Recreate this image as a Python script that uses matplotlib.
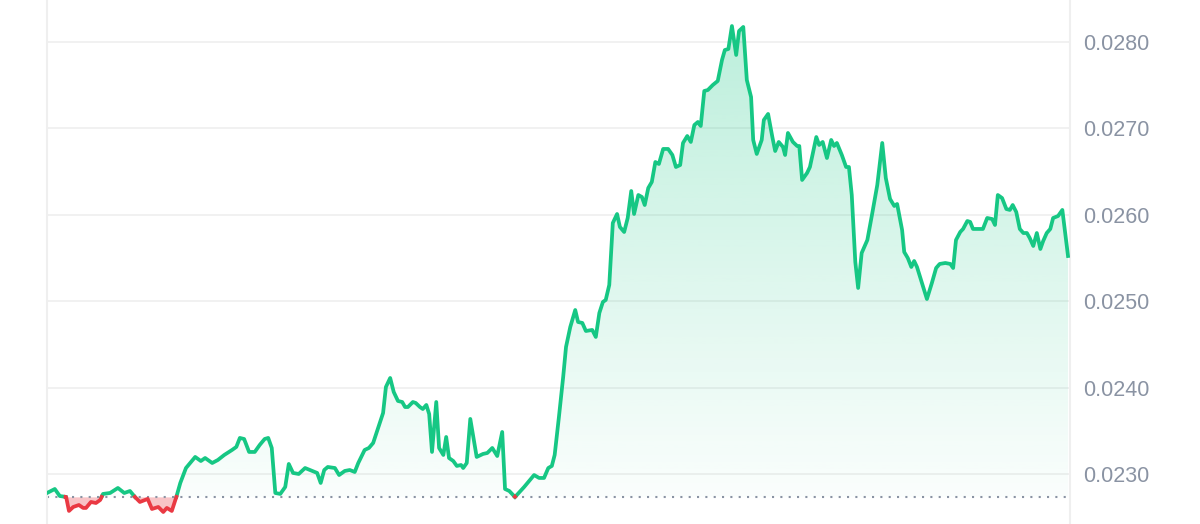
import numpy as np
import matplotlib.pyplot as plt
from matplotlib.path import Path
from matplotlib.patches import PathPatch
from matplotlib.ticker import FormatStrFormatter

plt.rcParams['font.family'] = ['Liberation Sans', 'DejaVu Sans']

# precio (USD) durante 24 h, minutos desde la apertura
minutes = [0, 11, 18, 27, 31, 37, 45, 51, 55, 62, 69, 75, 79, 89, 100, 109, 117, 124, 131, 138,
           142, 148, 157, 164, 169, 176, 182, 188, 196, 209, 217, 223, 233, 241, 250, 261, 267, 272, 278, 285,
           293, 300, 307, 312, 317, 322, 329, 336, 341, 347, 355, 364, 374, 381, 386, 391, 396, 406, 412, 420,
           427, 434, 439, 448, 454, 460, 467, 474, 478, 484, 489, 495, 501, 505, 509, 516, 520, 526, 530, 535,
           539, 543, 549, 553, 559, 563, 567, 573, 578, 584, 587, 592, 597, 602, 606, 615, 621, 628, 635, 642,
           646, 652, 660, 664, 673, 680, 687, 694, 701, 707, 712, 716, 722, 728, 732, 738, 745, 749, 755, 760,
           769, 774, 779, 784, 788, 793, 798, 804, 808, 814, 819, 824, 828, 834, 839, 843, 848, 853, 858, 863,
           869, 876, 882, 887, 893, 897, 903, 908, 913, 918, 922, 927, 932, 939, 946, 952, 956, 961, 966, 972,
           976, 982, 987, 993, 996, 1001, 1008, 1011, 1017, 1023, 1027, 1032, 1038, 1041, 1045, 1052, 1058, 1061, 1065, 1072,
           1076, 1085, 1089, 1094, 1100, 1106, 1110, 1114, 1121, 1127, 1131, 1135, 1140, 1144, 1149, 1157, 1164, 1171, 1178, 1183,
           1189, 1195, 1199, 1206, 1209, 1214, 1219, 1223, 1227, 1234, 1241, 1248, 1254, 1259, 1267, 1274, 1278, 1282, 1288, 1292,
           1298, 1302, 1306, 1313, 1320, 1326, 1333, 1337, 1341, 1347, 1353, 1358, 1362, 1367, 1372, 1377, 1382, 1386, 1391, 1396,
           1401, 1405, 1410, 1415, 1419, 1426, 1432, 1440]

price = [0.022780, 0.022826, 0.022745, 0.022734, 0.022572, 0.022618, 0.022641, 0.022607, 0.022607, 0.022676,
         0.022664, 0.022699, 0.022769, 0.022780, 0.022838, 0.022780, 0.022803, 0.022734, 0.022676, 0.022699,
         0.022711, 0.022595, 0.022618, 0.022560, 0.022607, 0.022572, 0.022722, 0.022896, 0.023069, 0.023197,
         0.023150, 0.023185, 0.023127, 0.023162, 0.023220, 0.023278, 0.023313, 0.023417, 0.023405, 0.023255,
         0.023255, 0.023336, 0.023405, 0.023417, 0.023301, 0.022780, 0.022769, 0.022850, 0.023116, 0.023012,
         0.023000, 0.023069, 0.023035, 0.023012, 0.022896, 0.023046, 0.023081, 0.023069, 0.022988, 0.023035,
         0.023046, 0.023023, 0.023127, 0.023278, 0.023301, 0.023359, 0.023532, 0.023706, 0.024007, 0.024111,
         0.023949, 0.023845, 0.023833, 0.023775, 0.023775, 0.023833, 0.023822, 0.023775, 0.023752, 0.023799,
         0.023694, 0.023255, 0.023833, 0.023301, 0.023220, 0.023428, 0.023185, 0.023150, 0.023093, 0.023104,
         0.023069, 0.023127, 0.023637, 0.023394, 0.023197, 0.023232, 0.023243, 0.023301, 0.023208, 0.023486,
         0.022826, 0.022803, 0.022734, 0.022769, 0.022850, 0.022919, 0.022988, 0.022954, 0.022954, 0.023069,
         0.023093, 0.023220, 0.023660, 0.024123, 0.024470, 0.024701, 0.024898, 0.024759, 0.024748, 0.024655,
         0.024667, 0.024586, 0.024863, 0.024991, 0.025014, 0.025188, 0.025905, 0.026009, 0.025859, 0.025801,
         0.025963, 0.026275, 0.026009, 0.026229, 0.026206, 0.026113, 0.026310, 0.026380, 0.026611, 0.026588,
         0.026762, 0.026762, 0.026692, 0.026553, 0.026576, 0.026831, 0.026912, 0.026843, 0.027039, 0.027074,
         0.027028, 0.027433, 0.027444, 0.027502, 0.027549, 0.027792, 0.027907, 0.027919, 0.028185, 0.027850,
         0.028127, 0.028174, 0.027560, 0.027363, 0.026866, 0.026704, 0.026866, 0.027097, 0.027167, 0.026900,
         0.026738, 0.026843, 0.026785, 0.026692, 0.026947, 0.026843, 0.026796, 0.026796, 0.026403, 0.026484,
         0.026553, 0.026900, 0.026808, 0.026843, 0.026657, 0.026866, 0.026796, 0.026831, 0.026692, 0.026553,
         0.026553, 0.026229, 0.025454, 0.025153, 0.025558, 0.025708, 0.026021, 0.026345, 0.026831, 0.026426,
         0.026183, 0.026102, 0.026125, 0.025824, 0.025569, 0.025500, 0.025396, 0.025465, 0.025396, 0.025211,
         0.025025, 0.025211, 0.025384, 0.025431, 0.025442, 0.025431, 0.025384, 0.025708, 0.025801, 0.025836,
         0.025928, 0.025917, 0.025836, 0.025836, 0.025836, 0.025963, 0.025951, 0.025882, 0.026229, 0.026194,
         0.026067, 0.026056, 0.026113, 0.026032, 0.025836, 0.025789, 0.025789, 0.025731, 0.025639, 0.025789,
         0.025604, 0.025697, 0.025789, 0.025836, 0.025963, 0.025986, 0.026056, 0.025523]

open_price = 0.022735
yticks = [0.0230, 0.0240, 0.0250, 0.0260, 0.0270, 0.0280]

GREEN = '#16c784'
RED = '#ea3943'
GRAY = '#8a93a3'

t = np.array(minutes, dtype=float)
p = np.array(price)

# añadir los cruces con el precio de apertura para cortar el color de la línea
tt, pp = [t[0]], [p[0]]
for i in range(len(t) - 1):
    d0, d1 = p[i] - open_price, p[i + 1] - open_price
    if d0 * d1 < 0:
        f = d0 / (d0 - d1)
        tt.append(t[i] + f * (t[i + 1] - t[i]))
        pp.append(open_price)
    tt.append(t[i + 1])
    pp.append(p[i + 1])
tt, pp = np.array(tt), np.array(pp)
up = np.where(pp >= open_price, pp, np.nan)
dn = np.where(pp <= open_price, pp, np.nan)

fig = plt.figure(figsize=(12, 5.24), dpi=100)
ax = fig.add_axes([47 / 1200, 0, 1023 / 1200, 1])

ymin, ymax = 0.022421, 0.028486
xmax = 1442.8
ax.set_xlim(0, xmax)
ax.set_ylim(ymin, ymax)

# relleno verde con degradado
verts = [(tt[0], open_price)] + list(zip(tt, np.maximum(pp, open_price))) + [(tt[-1], open_price)]
clip = PathPatch(Path(verts), transform=ax.transData, facecolor='none', edgecolor='none')
ax.add_patch(clip)
grad = np.zeros((256, 1, 4))
grad[..., :3] = np.array([22, 199, 132]) / 255
grad[:, 0, 3] = np.linspace(0.02, 0.30, 256)
im = ax.imshow(grad, extent=[0, xmax, open_price, ymax], origin='lower', aspect='auto', zorder=1)
im.set_clip_path(clip)

# relleno rojo bajo la apertura
ax.fill_between(tt, open_price, np.minimum(pp, open_price), color=RED, alpha=0.3, lw=0, zorder=1)

ax.axhline(open_price, xmax=1440 / xmax, color=GRAY, lw=1.5, ls=(0, (1, 3)), zorder=2)
ax.plot(tt, up, color=GREEN, lw=2.7, solid_joinstyle='round', zorder=3)
ax.plot(tt, dn, color=RED, lw=2.7, solid_joinstyle='round', zorder=3)

ax.set_yticks(yticks)
ax.yaxis.set_major_formatter(FormatStrFormatter('%.4f'))
ax.yaxis.tick_right()
ax.tick_params(axis='y', length=0, pad=9.5, labelsize=15.5, labelcolor=GRAY)
ax.set_xticks([])
ax.grid(axis='y', color='#efefef', lw=1.2, zorder=0)
ax.set_axisbelow(True)
for s in ['top', 'bottom']:
    ax.spines[s].set_visible(False)
for s in ['left', 'right']:
    ax.spines[s].set_color('#efefef')
    ax.spines[s].set_linewidth(1.5)

plt.savefig('out.png', dpi=100)
